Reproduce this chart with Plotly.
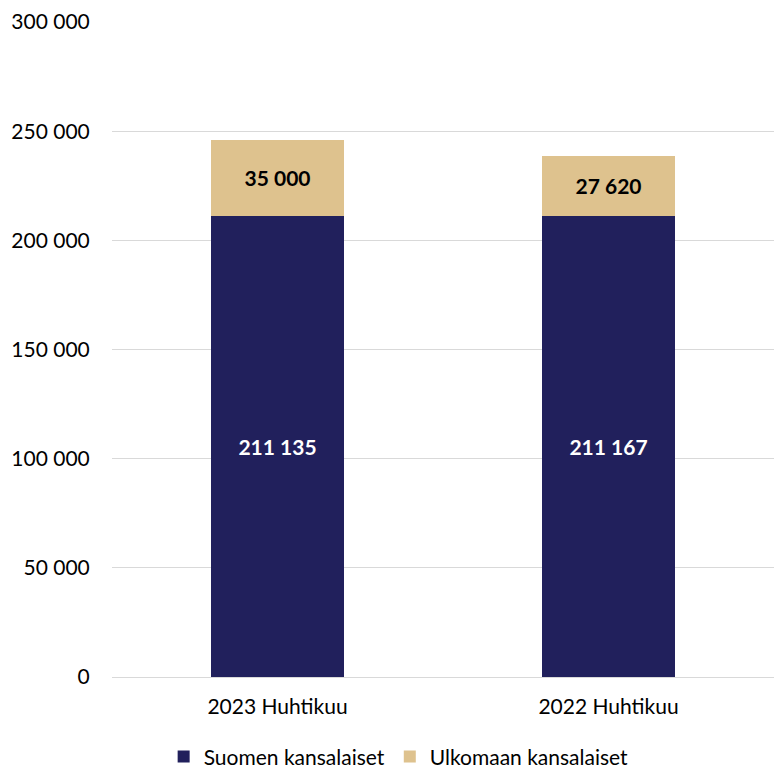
import plotly.graph_objects as go

categories = ["2023 Huhtikuu", "2022 Huhtikuu"]
suomen = [211135, 211167]
ulkomaan = [35000, 27620]
series_names = ["Suomen kansalaiset", "Ulkomaan kansalaiset"]
y_ticks = [0, 50000, 100000, 150000, 200000, 250000, 300000]

navy = "#21205C"
tan = "#DEC28E"
font = "Lato"
fs = 21

fig = go.Figure()
fig.add_trace(go.Bar(
    x=categories, y=suomen, name=series_names[0], marker_color=navy,
    marker_line_width=0,
    texttemplate="<b>%{y:,.0f}</b>", textposition="inside", insidetextanchor="middle",
    textfont=dict(color="white", size=fs, family=font),
))
fig.add_trace(go.Bar(
    x=categories, y=ulkomaan, name=series_names[1], marker_color=tan,
    marker_line_width=0,
    texttemplate="<b>%{y:,.0f}</b>", textposition="inside", insidetextanchor="middle",
    textfont=dict(color="black", size=fs, family=font),
))

fig.update_layout(
    barmode="stack",
    bargap=0.6,
    width=774, height=769,
    margin=dict(l=112, r=0, t=22, b=92, autoexpand=False),
    plot_bgcolor="white", paper_bgcolor="white",
    separators=", ",
    font=dict(family=font, size=fs, color="black"),
    uniformtext=dict(mode="show", minsize=fs),
    legend=dict(orientation="h", x=0.433, xanchor="center", y=-0.122, yanchor="middle",
                font=dict(size=fs), itemwidth=30, traceorder="normal",
                borderwidth=0, bgcolor="rgba(0,0,0,0)"),
    xaxis=dict(showline=True, linecolor="#D9D9D9", linewidth=1, ticks="outside",
               ticklen=11, tickcolor="rgba(0,0,0,0)", automargin=False),
    yaxis=dict(range=[0, 300000], tickvals=y_ticks, tickformat=",.0f",
               showgrid=True, gridcolor="#D9D9D9", gridwidth=1, zeroline=False,
               ticks="outside", ticklen=17, tickcolor="rgba(0,0,0,0)", automargin=False),
)

fig.write_html("out.html", config={"displayModeBar": False},
               post_script="document.body.style.margin='0';document.body.style.padding='0';")
